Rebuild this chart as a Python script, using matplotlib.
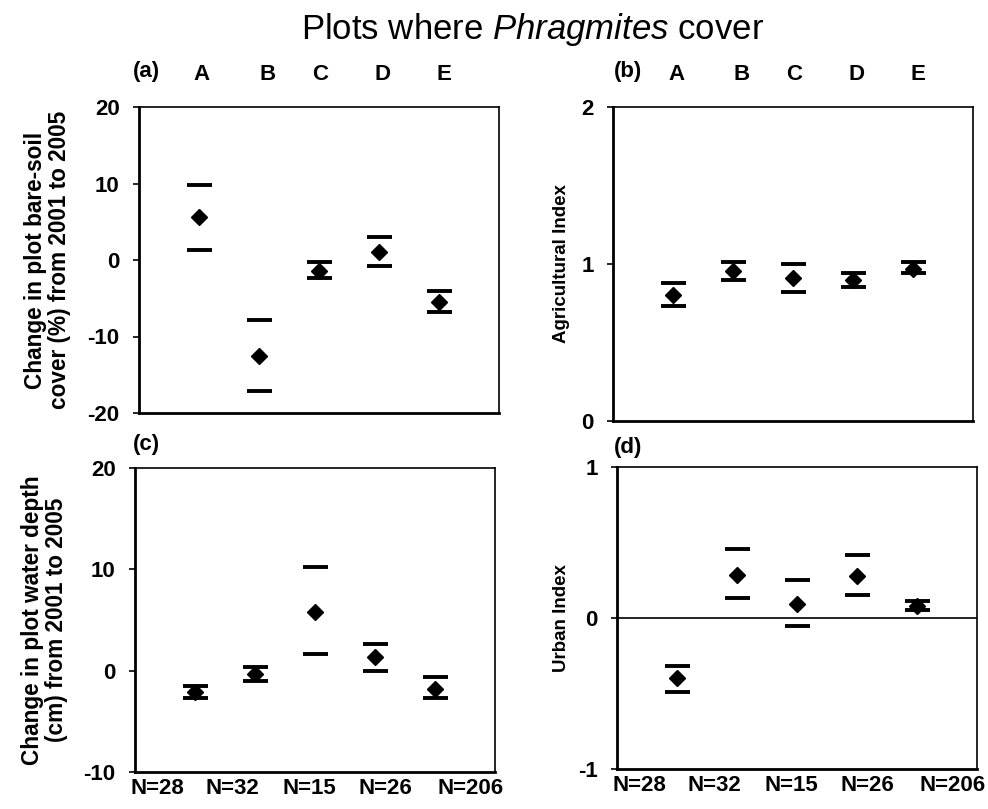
import matplotlib
matplotlib.use("Agg")
import matplotlib.pyplot as plt

plt.rcParams['font.family'] = ['Liberation Sans', 'DejaVu Sans']
plt.rcParams['mathtext.fontset'] = 'custom'
plt.rcParams['mathtext.it'] = 'Liberation Sans:italic'
plt.rcParams['mathtext.rm'] = 'Liberation Sans'

groups = ['A', 'B', 'C', 'D', 'E']
n_labels = ['N=28', 'N=32', 'N=15', 'N=26', 'N=206']

# (a) bare-soil cover change (%)
a_mean = [5.6, -12.5, -1.4, 1.0, -5.5]
a_hi = [9.85, -7.85, -0.2, 3.05, -4.0]
a_lo = [1.3, -17.1, -2.4, -0.75, -6.8]

# (b) agricultural index
b_mean = [0.80, 0.957, 0.91, 0.90, 0.97]
b_hi = [0.88, 1.01, 1.00, 0.945, 1.01]
b_lo = [0.73, 0.90, 0.82, 0.855, 0.945]

# (c) water depth change (cm)
c_mean = [-2.1, -0.3, 5.8, 1.3, -1.8]
c_hi = [-1.5, 0.4, 10.25, 2.6, -0.6]
c_lo = [-2.7, -1.05, 1.6, 0.0, -2.7]

# (d) urban index
d_mean = [-0.40, 0.286, 0.095, 0.28, 0.08]
d_hi = [-0.32, 0.458, 0.253, 0.414, 0.11]
d_lo = [-0.49, 0.13, -0.055, 0.154, 0.055]

fig = plt.figure(figsize=(9.88, 8.09), dpi=100)
W, H = 988.0, 809.0

def mkax(l, r, t, b):
    return fig.add_axes([l / W, 1 - b / H, (r - l) / W, (b - t) / H])

axa = mkax(139, 499, 107, 413)
axb = mkax(613, 973, 107, 421)
axc = mkax(135, 495, 468, 772)
axd = mkax(617, 977, 467, 769)

x = list(range(1, len(groups) + 1))
# label placement along the x axis (layout only)
n_pos = [0.38, 1.62, 2.91, 4.17, 5.6]
hdr_pos = [1.05, 2.15, 3.02, 4.05, 5.08]
TICK_FS = 16

def draw(ax, mean, hi, lo, ylim, yticks):
    ax.plot(x, hi, linestyle='none', marker='_', ms=18, mew=2.8, color='black')
    ax.plot(x, lo, linestyle='none', marker='_', ms=18, mew=2.8, color='black')
    ax.plot(x, mean, linestyle='none', marker='D', ms=8, color='black')
    ax.set_xlim(0, 6)
    ax.set_ylim(*ylim)
    ax.set_yticks(yticks)
    ax.set_yticklabels([str(v) for v in yticks], fontsize=TICK_FS, fontweight='bold')
    ax.tick_params(axis='y', direction='out', length=4, width=1.2, pad=10)
    ax.tick_params(axis='x', length=0)
    ax.set_xticks(n_pos)
    for s in ['left', 'bottom']:
        ax.spines[s].set_linewidth(2.0)
    for s in ['top', 'right']:
        ax.spines[s].set_linewidth(1.2)

draw(axa, a_mean, a_hi, a_lo, (-20, 20), [-20, -10, 0, 10, 20])
draw(axb, b_mean, b_hi, b_lo, (0, 2), [0, 1, 2])
draw(axc, c_mean, c_hi, c_lo, (-10, 20), [-10, 0, 10, 20])
draw(axd, d_mean, d_hi, d_lo, (-1, 1), [-1, 0, 1])
axd.axhline(0, color='black', lw=1.2, zorder=0)

for ax in (axa, axb):
    ax.set_xticklabels([])
for ax in (axc, axd):
    ax.set_xticklabels(n_labels, fontsize=TICK_FS, fontweight='bold')
    ax.tick_params(axis='x', pad=4)

axa.set_ylabel('Change in plot bare-soil\ncover (%) from 2001 to 2005',
               fontsize=16.3, fontweight='bold', linespacing=1.05)
axa.yaxis.set_label_coords(-0.189, 0.5)
axc.set_ylabel('Change in plot water depth\n(cm) from 2001 to 2005',
               fontsize=16.3, fontweight='bold', linespacing=1.05)
axc.yaxis.set_label_coords(-0.186, 0.5)

IDX_FS = 13.5
axb.set_ylabel('Agricultural Index', fontsize=IDX_FS, fontweight='bold')
axb.yaxis.set_label_coords(-0.12, 0.5)
axd.set_ylabel('Urban Index', fontsize=IDX_FS, fontweight='bold')
axd.yaxis.set_label_coords(-0.13, 0.5)

HDR_FS = 16
fig.text(146 / W, 1 - 72 / H, '(a)', fontsize=HDR_FS, fontweight='bold', ha='center', va='center')
fig.text(628 / W, 1 - 72 / H, '(b)', fontsize=HDR_FS, fontweight='bold', ha='center', va='center')
fig.text(146 / W, 1 - 445 / H, '(c)', fontsize=HDR_FS, fontweight='bold', ha='center', va='center')
fig.text(628 / W, 1 - 447 / H, '(d)', fontsize=HDR_FS, fontweight='bold', ha='center', va='center')

for ax in (axa, axb):
    for xi, g in zip(hdr_pos, groups):
        xd = ax.transData.transform((xi, 0))[0]
        fig.text(xd / W, 1 - 75 / H, g, fontsize=HDR_FS, fontweight='bold',
                 ha='center', va='center')

fig.text(533 / W, 1 - 30 / H, r'Plots where $\it{Phragmites}$ cover', fontsize=25,
         ha='center', va='center')

fig.savefig('out.png', dpi=100)
